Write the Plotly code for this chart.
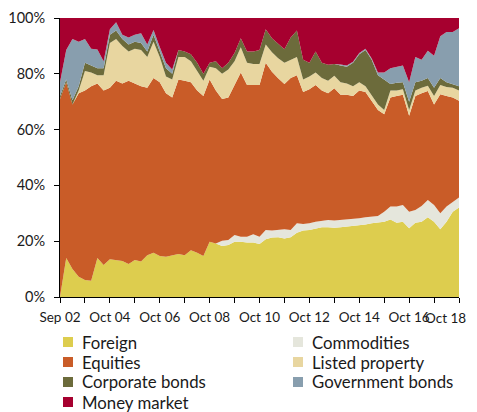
import plotly.graph_objects as go

# Month offsets from Sep 2002 (quarterly samples)
months = list(range(0, 193, 3))

foreign = [0, 14, 10, 7.3, 6.1, 5.8, 14, 11.5, 13.5, 13.3, 12.9, 11.8, 13.3, 12.7, 15, 15.9, 14.7,
           14.4, 15, 15.4, 15, 16.8, 15.9, 14.7, 19.8, 19.2, 18.3, 18.6, 19.8, 19.8, 19.5, 19.5, 19,
           20.7, 21.3, 21.4, 21, 21.4, 23, 23.8, 24, 24.6, 25, 25, 24.8, 25, 25.2, 25.4, 25.6,
           26, 26.4, 26.6, 27, 27.8, 26.6, 27, 24.6, 26.6, 27, 28.6, 27, 24.3, 27, 30.6, 32.1]
commodities = [0, 0, 0, 0, 0, 0, 0, 0, 0, 0, 0, 0, 0, 0, 0, 0, 0,
               0, 0, 0, 0, 0, 0, 0, 0, 0, 1.9, 1.8, 2.4, 1.8, 2.1, 3, 2.6,
               3.3, 2.5, 2.6, 3.3, 2.6, 3.4, 2.4, 2.4, 2.4, 2.4, 2.6, 2.6, 2.6, 2.6, 2.4, 2.6,
               2.6, 2.4, 2.4, 3.6, 4.6, 5.8, 6, 6, 4.6, 5.6, 6.2, 6, 5.7, 5.4, 3.6, 3.6]
equities = [71, 63, 59, 65.7, 67.9, 69.7, 62.5, 62.5, 61.5, 64.2, 63.6, 65.7, 63.2, 62.8, 60, 62.6, 62.3,
            58.6, 56.5, 62.6, 62.5, 60.2, 58.1, 57.3, 58.2, 54.8, 50.8, 51.1, 53.8, 58.9, 54.4, 53.5, 54.4,
            60, 56.9, 54.4, 52, 54.5, 53.1, 47.3, 48.1, 49, 46.6, 45.4, 47.4, 44.9, 44.7, 44.2, 45.8,
            44.9, 41.2, 38, 34.9, 39.1, 39.6, 39.5, 34.4, 40.8, 40.4, 39, 36, 42.7, 39.6, 37.3, 34.6]
listed_property = [0, 0, 0, 1, 7, 5, 3, 5.5, 16, 15, 13.5, 10.5, 12.5, 13, 11, 13, 9,
                   6, 6.5, 8, 8.5, 7.5, 7, 5.5, 4.5, 8, 9, 10, 8.5, 9, 8, 7.5, 7.5,
                   6.5, 7, 7.2, 7.7, 6.5, 6.5, 4.5, 4.5, 4.5, 4.5, 4.5, 4.5, 4.5, 4, 3.5, 3,
                   2, 2, 2, 1.5, 2.5, 2, 2, 2, 2, 2, 1.9, 3, 3.3, 3.3, 3.5, 3.7]
corporate_bonds = [1, 1, 1.5, 1.5, 3, 2.5, 2.5, 2.5, 3, 3, 2.5, 2.5, 2.5, 2.5, 2, 2.5, 2,
                   3, 2, 2.5, 2, 2.5, 3, 2.5, 1.5, 2.5, 2, 2.5, 3, 3.2, 4, 4.5, 5,
                   5.5, 5, 5, 4.8, 8, 9.5, 7, 5, 7.5, 5.5, 5.7, 4.2, 6, 6, 8.5, 10,
                   13, 13, 10.5, 11, 2.3, 2.8, 2.5, 3, 3, 2.5, 2.8, 3, 2.5, 1.7, 1.3, 1.5]
government_bonds = [5, 10.5, 22, 16, 8.5, 6, 6.7, 2.5, 2, 3, 1.5, 2.5, 2.5, 3.5, 2.5, 1.7, 1.6,
                    2, 1.5, 0, 0, 0, 0, 0, 0, 0, 0, 0, 0, 0, 0, 0, 0,
                    0, 0, 0, 0, 0, 0, 0, 0, 0, 0, 0, 0, 0.3, 0.5, 0.3, 0.5,
                    0.5, 0.5, 1, 2.5, 5.7, 5.7, 6, 7, 9, 7.5, 9.8, 11.5, 15, 18, 18.7, 20.8]
money_market = [23, 11.5, 7.5, 8.5, 7.5, 11, 11.3, 15.5, 4, 1.5, 6, 7, 6, 5.5, 9.5, 4.3, 10.4,
                16, 18.5, 11.5, 12, 13, 16, 20, 16, 15.5, 18, 16, 12.5, 7.3, 12, 12, 11.5,
                4, 7.3, 9.4, 11.2, 7, 4.5, 15, 16, 12, 16, 16.8, 16.5, 16.7, 17, 15.7, 12.5,
                11, 14.5, 19.5, 19.5, 18, 17.5, 17, 23, 14, 15, 11.7, 13.5, 6.5, 5, 5, 3.7]

tick_months = list(range(0, 193, 12))
tick_labels = ["Sep 02", "", "Oct 04", "", "Oct 06", "", "Oct 08", "", "Oct 10", "",
               "Oct 12", "", "Oct 14", "", "Oct 16", "", "Oct 18"]
y_ticks = [0, 20, 40, 60, 80, 100]
y_tick_labels = ["0%", "20%", "40%", "60%", "80%", "100%"]

series = [
    ("Foreign", foreign, "#DDCD4E"),
    ("Commodities", commodities, "#E5E6DC"),
    ("Equities", equities, "#C95C28"),
    ("Listed property", listed_property, "#E8D6A0"),
    ("Corporate bonds", corporate_bonds, "#6C6B3B"),
    ("Government bonds", government_bonds, "#889EAE"),
    ("Money market", money_market, "#A6002F"),
]
# legend layout order (row-major, two columns)
legend_order = ["Foreign", "Commodities", "Equities", "Listed property",
                "Corporate bonds", "Government bonds", "Money market"]

fig = go.Figure()
for name, vals, col in series:
    fig.add_trace(go.Scatter(
        x=months, y=vals, name=name, mode="lines", stackgroup="one",
        line=dict(width=0, color=col), fillcolor=col, showlegend=False))

# page body has an 8px margin: figure drawn at (8, 8)
OFF = 8
W, H = 477 - OFF, 412 - OFF
L_, R_, T_, B_ = 60 - OFF, 18, 18 - OFF, 115
pw, ph = W - L_ - R_, H - T_ - B_

def px2paper(px, py):
    # px, py in page pixels
    return (px - OFF - L_) / pw, (H - B_ - (py - OFF)) / ph

TICK_FONT = dict(family="Lato", size=13.5, color="#1a1a1a")

colors = {n: c for n, _, c in series}
shapes, annotations = [], []
for k, name in enumerate(legend_order):
    col, row = k % 2, k // 2
    cx = 68 + col * 230
    cy = 342 + row * 20
    x0, y0 = px2paper(cx - 5, cy + 5)
    x1, y1 = px2paper(cx + 5, cy - 5)
    shapes.append(dict(type="rect", xref="paper", yref="paper", x0=x0, x1=x1, y0=y0, y1=y1,
                       fillcolor=colors[name], line=dict(width=0)))
    tx, ty = px2paper(80 + col * 230, cy)
    annotations.append(dict(text=name, xref="paper", yref="paper", x=tx, y=ty,
                            xanchor="left", yanchor="middle", showarrow=False,
                            font=dict(family="Lato", size=16.8, color="#1a1a1a")))

# last x tick label kept fully inside the visible page
axis_labels = tick_labels[:-1] + [""]
lx, ly = px2paper(467, 318)
annotations.append(dict(text=tick_labels[-1], xref="paper", yref="paper", x=lx, y=ly,
                        xanchor="right", yanchor="middle", showarrow=False, borderpad=0,
                        font=TICK_FONT))

fig.update_layout(
    width=W, height=H,
    margin=dict(l=L_, r=R_, t=T_, b=B_, autoexpand=False),
    paper_bgcolor="white", plot_bgcolor="white",
    showlegend=False,
    shapes=shapes, annotations=annotations,
    font=dict(family="Lato", size=14, color="#1a1a1a"),
)
fig.update_xaxes(range=[0, 192], tickmode="array", tickvals=tick_months, ticktext=axis_labels,
                 showline=True, linecolor="black", linewidth=1, ticks="outside", ticklen=5,
                 tickcolor="black", showgrid=False, zeroline=False, tickangle=0,
                 ticklabelstandoff=3, automargin=False, tickfont=TICK_FONT)
fig.update_yaxes(range=[0, 100], tickmode="array", tickvals=y_ticks, ticktext=y_tick_labels,
                 showline=True, linecolor="black", linewidth=1, ticks="outside", ticklen=5,
                 tickcolor="black", showgrid=False, zeroline=False, ticklabelstandoff=6,
                 automargin=False, tickfont=dict(family="Lato", size=14.5))

fig.write_html("out.html")
